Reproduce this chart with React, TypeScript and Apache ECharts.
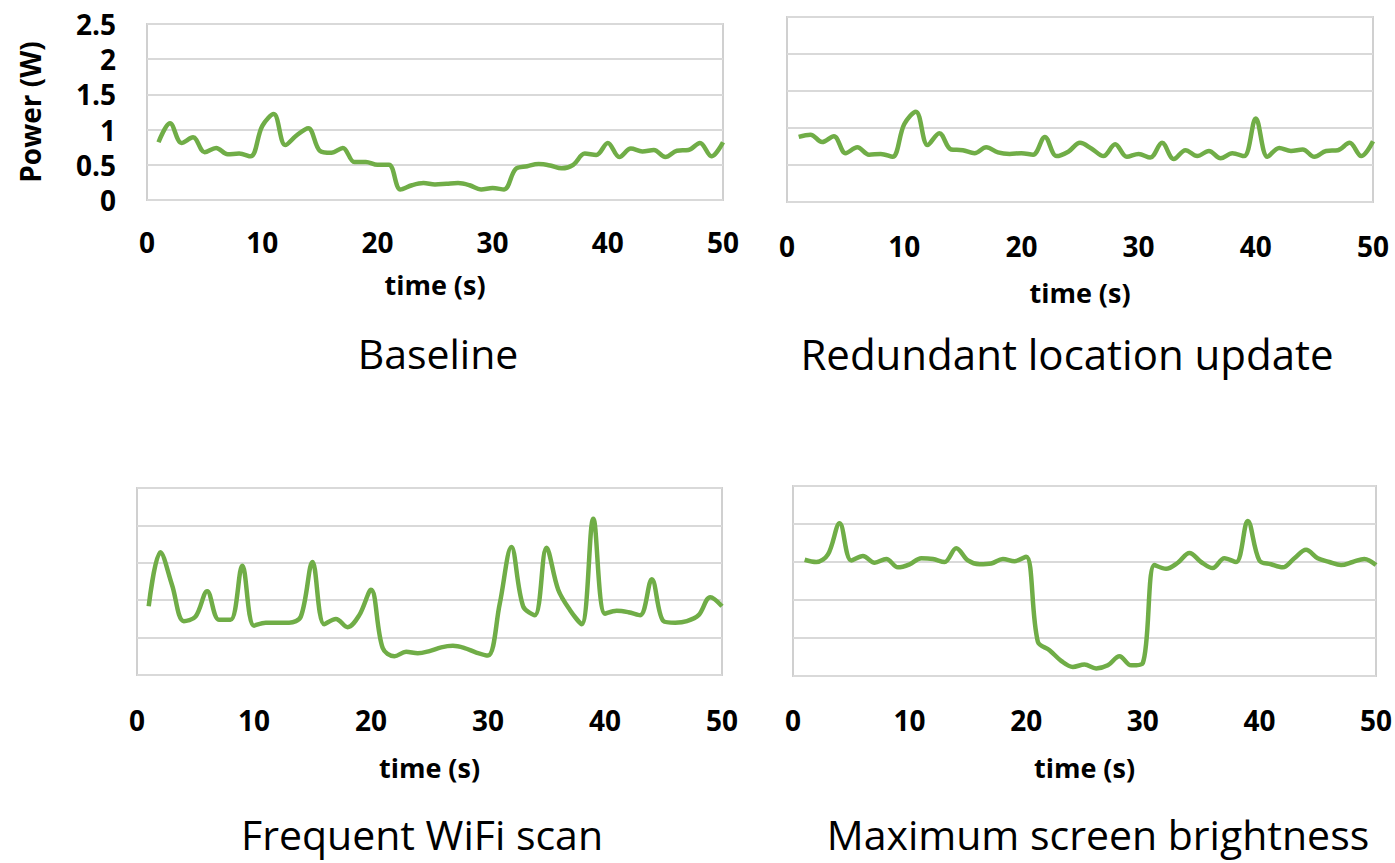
import React, { useEffect, useRef } from "react";
import * as echarts from "echarts";

const TIME = [
  1, 2, 3, 4, 5, 6, 7, 8, 9, 10, 11, 12, 13, 14, 15, 16, 17, 18, 19, 20, 21, 22, 23, 24, 25,
  26, 27, 28, 29, 30, 31, 32, 33, 34, 35, 36, 37, 38, 39, 40, 41, 42, 43, 44, 45, 46, 47, 48, 49, 50,
];

const BASELINE = [
  0.82, 1.09, 0.81, 0.89, 0.68, 0.74, 0.65, 0.66, 0.62, 1.05, 1.22, 0.78, 0.92, 1.02, 0.7, 0.67,
  0.74, 0.54, 0.54, 0.5, 0.5, 0.15, 0.21, 0.24, 0.22, 0.23, 0.24, 0.21, 0.15, 0.17, 0.15, 0.44,
  0.48, 0.51, 0.49, 0.45, 0.5, 0.66, 0.64, 0.81, 0.61, 0.73, 0.69, 0.71, 0.61, 0.7, 0.71, 0.81,
  0.62, 0.82,
];

const REDUNDANT = [
  0.88, 0.91, 0.81, 0.89, 0.66, 0.74, 0.64, 0.65, 0.61, 1.05, 1.22, 0.77, 0.93, 0.71, 0.7, 0.66,
  0.74, 0.67, 0.65, 0.66, 0.64, 0.88, 0.62, 0.68, 0.8, 0.72, 0.62, 0.78, 0.61, 0.65, 0.6, 0.8,
  0.58, 0.7, 0.62, 0.69, 0.59, 0.66, 0.62, 1.13, 0.61, 0.73, 0.69, 0.71, 0.61, 0.69, 0.7, 0.8,
  0.62, 0.82,
];

const WIFI = [
  0.92, 1.64, 1.2, 0.72, 0.78, 1.12, 0.74, 0.74, 1.46, 0.66, 0.7, 0.7, 0.7, 0.78, 1.51, 0.68,
  0.75, 0.64, 0.8, 1.14, 0.36, 0.25, 0.31, 0.29, 0.32, 0.37, 0.39, 0.36, 0.3, 0.26, 0.95, 1.71,
  0.92, 0.8, 1.7, 1.14, 0.87, 0.68, 2.09, 0.82, 0.86, 0.84, 0.8, 1.28, 0.72, 0.7, 0.72, 0.8,
  1.04, 0.92,
];

const BRIGHTNESS = [
  1.53, 1.5, 1.6, 2.01, 1.52, 1.58, 1.49, 1.54, 1.43, 1.47, 1.55, 1.54, 1.5, 1.68, 1.52, 1.47,
  1.48, 1.54, 1.51, 1.57, 0.45, 0.34, 0.2, 0.12, 0.15, 0.1, 0.14, 0.26, 0.14, 0.17, 1.46, 1.41,
  1.49, 1.62, 1.5, 1.42, 1.55, 1.5, 2.04, 1.52, 1.47, 1.43, 1.55, 1.66, 1.55, 1.5, 1.46, 1.5,
  1.54, 1.46,
];

const SERIES_VALUES = [BASELINE, REDUNDANT, WIFI, BRIGHTNESS];
const TITLES = ["Baseline", "Redundant location update", "Frequent WiFi scan", "Maximum screen brightness"];
const X_NAME = "time (s)";
const Y_NAME = "Power (W)";
const X_MIN = 0;
const X_MAX = 50;
const X_STEP = 10;
const Y_MIN = 0;
const Y_MAX = 2.5;
const Y_STEP = 0.5;

const FONT = "'Open Sans', 'Noto Sans', sans-serif";
const GREEN = "#70ad47";

const PANELS = [
  { left: 147, top: 24, width: 576, height: 176, labelMargin: 28, nameGap: 71, titleX: 438, titleY: 353, titleSize: 41 },
  { left: 787, top: 17, width: 586, height: 185, labelMargin: 30, nameGap: 77, titleX: 1067, titleY: 353, titleSize: 42 },
  { left: 137, top: 488, width: 585, height: 187, labelMargin: 31, nameGap: 79, titleX: 422, titleY: 834, titleSize: 41 },
  { left: 793, top: 486, width: 583, height: 190, labelMargin: 30, nameGap: 78, titleX: 1098, titleY: 834, titleSize: 41 },
];

export default function App() {
  const ref = useRef<HTMLDivElement>(null);

  useEffect(() => {
    if (!ref.current) return;
    const chart = echarts.init(ref.current, undefined, { renderer: "svg" });

    const option: any = {
      animation: false,
      backgroundColor: "#ffffff",
      grid: PANELS.map((p) => ({
        left: p.left,
        top: p.top,
        width: p.width,
        height: p.height,
        show: true,
        borderColor: "#d0d0d0",
        borderWidth: 2,
        backgroundColor: "transparent",
      })),
      xAxis: PANELS.map((p, i) => ({
        type: "value",
        gridIndex: i,
        min: X_MIN,
        max: X_MAX,
        interval: X_STEP,
        axisLine: { show: false },
        axisTick: { show: false },
        splitLine: { show: false },
        axisLabel: {
          fontFamily: FONT,
          fontWeight: "bold",
          fontSize: 28,
          color: "#000",
          margin: p.labelMargin,
        },
        name: X_NAME,
        nameLocation: "middle",
        nameGap: p.nameGap,
        nameTextStyle: { fontFamily: FONT, fontWeight: "bold", fontSize: 27, color: "#000" },
      })),
      yAxis: PANELS.map((p, i) => ({
        type: "value",
        gridIndex: i,
        min: Y_MIN,
        max: Y_MAX,
        interval: Y_STEP,
        axisLine: { show: false },
        axisTick: { show: false },
        splitLine: { show: true, lineStyle: { color: "#d9d9d9", width: 2 } },
        axisLabel: {
          show: i === 0,
          fontFamily: FONT,
          fontWeight: "bold",
          fontSize: 28,
          color: "#000",
          margin: 31,
          formatter: (v: number) => String(v),
        },
        name: i === 0 ? Y_NAME : "",
        nameLocation: "middle",
        nameRotate: 90,
        nameGap: 103,
        nameTextStyle: { fontFamily: FONT, fontWeight: "bold", fontSize: 28, color: "#000" },
      })),
      series: SERIES_VALUES.map((vals, i) => ({
        type: "line",
        xAxisIndex: i,
        yAxisIndex: i,
        data: TIME.map((t, k) => [t, vals[k]]),
        showSymbol: false,
        smooth: 0.35,
        lineStyle: { color: GREEN, width: 4.5 },
        itemStyle: { color: GREEN },
      })),
      graphic: PANELS.map((p, i) => ({
        type: "text",
        x: p.titleX,
        y: p.titleY,
        style: {
          text: TITLES[i],
          fontFamily: FONT,
          fontSize: p.titleSize,
          fill: "#000",
          align: "center",
          verticalAlign: "middle",
        },
      })),
    };

    chart.setOption(option);
    return () => chart.dispose();
  }, []);

  return (
    <div
      ref={ref}
      style={{ position: "fixed", left: 0, top: 0, width: 1395, height: 863, background: "#fff" }}
    />
  );
}
